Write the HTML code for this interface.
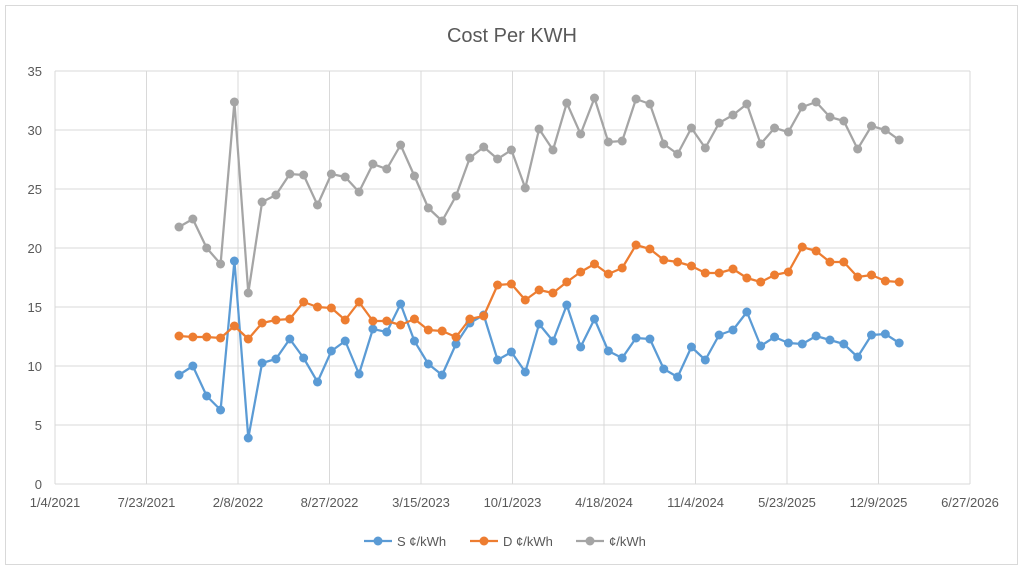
<!DOCTYPE html>
<html><head><meta charset="utf-8"><style>
body{margin:0;background:#fff;}
svg{display:block;font-family:"Liberation Sans",sans-serif;}
</style></head><body>
<svg id="s" width="1024" height="570" xmlns="http://www.w3.org/2000/svg">
<rect x="0" y="0" width="1024" height="570" fill="#fff"/>
<rect x="5.5" y="5.5" width="1012" height="559" fill="none" stroke="#d9d9d9"/>
<text x="512" y="42" text-anchor="middle" font-size="20" fill="#595959">Cost Per KWH</text>
<g id="grid"></g>
<g id="series"></g>
<g font-size="13" fill="#595959">
<line x1="364" y1="541" x2="392" y2="541" stroke="#5b9bd5" stroke-width="2.25"/><circle cx="378" cy="541" r="4.5" fill="#5b9bd5"/>
<text x="397" y="546">S ¢/kWh</text>
<line x1="470" y1="541" x2="498" y2="541" stroke="#ed7d31" stroke-width="2.25"/><circle cx="484" cy="541" r="4.5" fill="#ed7d31"/>
<text x="503" y="546">D ¢/kWh</text>
<line x1="576" y1="541" x2="604" y2="541" stroke="#a5a5a5" stroke-width="2.25"/><circle cx="590" cy="541" r="4.5" fill="#a5a5a5"/>
<text x="609" y="546">¢/kWh</text>
</g>
</svg>
<script>
var NS="http://www.w3.org/2000/svg";
function el(p,t,a,txt){var e=document.createElementNS(NS,t);for(var k in a)e.setAttribute(k,a[k]);if(txt)e.textContent=txt;p.appendChild(e);return e;}
var g=document.getElementById("grid");
for(var v=0;v<=35;v+=5){var y=484-v*413/35;
el(g,"line",{x1:55,x2:970,y1:y,y2:y,stroke:"#d9d9d9","stroke-width":1});
el(g,"text",{x:42,y:y+5,"text-anchor":"end","font-size":13,fill:"#595959"},String(v));}
var xl=["1/4/2021","7/23/2021","2/8/2022","8/27/2022","3/15/2023","10/1/2023","4/18/2024","11/4/2024","5/23/2025","12/9/2025","6/27/2026"];
for(var i=0;i<xl.length;i++){var x=55+i*91.5;
el(g,"line",{x1:x,x2:x,y1:71,y2:484,stroke:"#d9d9d9","stroke-width":1});
el(g,"text",{x:x,y:507,"text-anchor":"middle","font-size":13,fill:"#595959"},xl[i]);}
var gray=[227,219,248,264,102,293,202,195,174,175,205,174,177,192,164,169,145,176,208,221,196,158,147,159,150,188,129,150,103,134,98,142,141,99,104,144,154,128,148,123,115,104,144,128,132,107,102,117,121,149,126,130,140];
var orange=[336,337,337,338,326,339,323,320,319,302,307,308,320,302,321,321,325,319,330,331,337,319,316,285,284,300,290,293,282,272,264,274,268,245,249,260,262,266,273,273,269,278,282,275,272,247,251,262,262,277,275,281,282];
var blue=[375,366,396,410,261,438,363,359,339,358,382,351,341,374,329,332,304,341,364,375,344,323,315,360,352,372,324,341,305,347,319,351,358,338,339,369,377,347,360,335,330,312,346,337,343,344,336,340,344,357,335,334,343];
var s=document.getElementById("series");
function draw(d,c){var pts=[];for(var i=0;i<d.length;i++)pts.push((179+i*13.85).toFixed(1)+","+d[i]);
el(s,"polyline",{points:pts.join(" "),fill:"none",stroke:c,"stroke-width":2.25,"stroke-linejoin":"round"});
for(var i=0;i<d.length;i++)el(s,"circle",{cx:179+i*13.85,cy:d[i],r:4.5,fill:c});}
draw(blue,"#5b9bd5");draw(orange,"#ed7d31");draw(gray,"#a5a5a5");
</script>
</body></html>
